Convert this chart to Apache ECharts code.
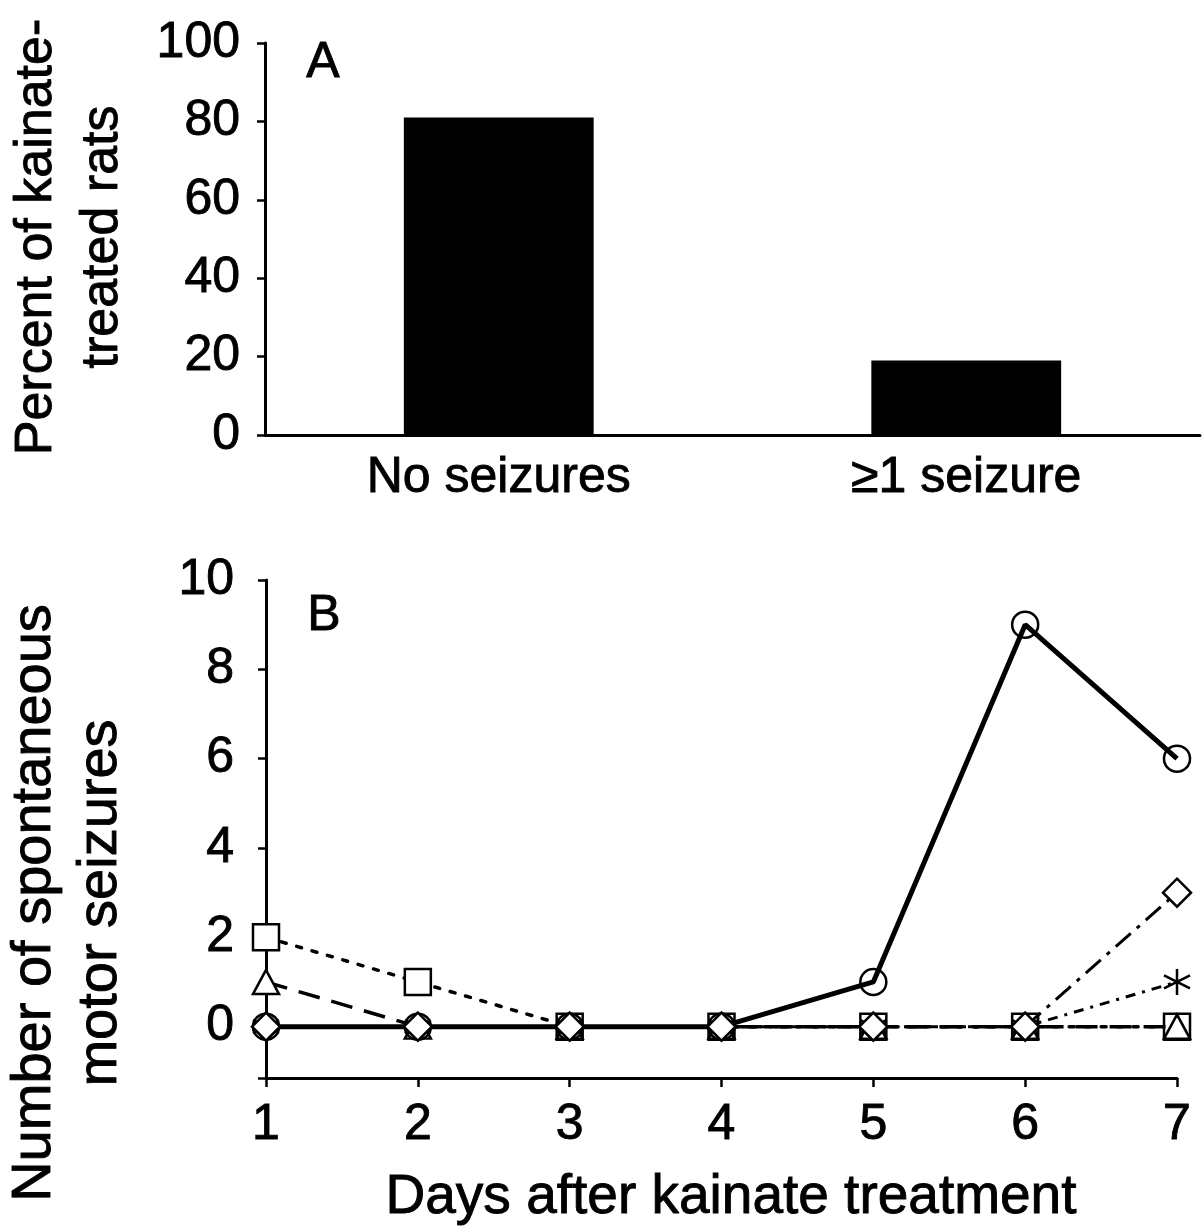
<!DOCTYPE html>
<html>
<head>
<meta charset="utf-8">
<script src="https://cdn.jsdelivr.net/npm/echarts@6/dist/echarts.min.js"></script>
<style>
html,body{margin:0;padding:0;background:#fff;}
#chart{width:1204px;height:1228px;}
</style>
</head>
<body>
<div id="chart"></div>
<script>
// ---- data ----
const categoriesA = ['No seizures', '\u22651 seizure'];
const percentA = [81, 19];
const yTicksA = [0, 20, 40, 60, 80, 100];

const days = [1, 2, 3, 4, 5, 6, 7];
const ratCircle = [0, 0, 0, 0, 1, 9, 6];
const ratSquare = [2, 1, 0, 0, 0, 0, 0];
const ratTriangle = [1, 0, 0, 0, 0, 0, 0];
const ratDiamond = [0, 0, 0, 0, 0, 0, 3];
const ratAsterisk = [0, 0, 0, 0, 0, 0, 1];
const yTicksB = [0, 2, 4, 6, 8, 10];
const yMinB = -1.15;

const titleA = 'Percent of kainate-\ntreated rats';
const titleB = 'Number of spontaneous\nmotor seizures';
const xTitleB = 'Days after kainate treatment';

// ---- styles ----
const FONT = '"Liberation Sans", Arial, Helvetica, sans-serif';
const FS = 50;
const TB = { textBorderColor: '#000', textBorderWidth: 0.9 };
const AX = { show: true, onZero: false, lineStyle: { color: '#000', width: 3 } };
const TICK = { show: true, length: 8, lineStyle: { color: '#000', width: 2.5 } };
const asteriskPath = 'path://M12,0L12,24M1.6,6L22.4,18M1.6,18L22.4,6';

function pair(ys) { return days.map((d, i) => [d, ys[i]]); }
function lbl(extra) { return Object.assign({ color: '#000', fontFamily: FONT, fontSize: FS }, TB, extra); }
function txt(x, y, text, size, rot, lh) {
  return { type: 'text', x: x, y: y, rotation: rot || 0,
    style: { text: text, font: size + 'px ' + FONT, fill: '#000', stroke: '#000', lineWidth: 0.9,
      align: 'center', verticalAlign: 'middle', lineHeight: lh || size } };
}

const chart = echarts.init(document.getElementById('chart'), null, { renderer: 'canvas' });

function lineSeries(data, symbol, size, fill, lineStyle, z) {
  return {
    type: 'line', xAxisIndex: 1, yAxisIndex: 1,
    data: pair(data), symbol: symbol, symbolSize: size,
    showAllSymbol: true, z: z, animation: false,
    lineStyle: Object.assign({ color: '#000' }, lineStyle),
    itemStyle: { color: fill, borderColor: '#000', borderWidth: 2.5 },
    emphasis: { disabled: true }
  };
}

chart.setOption({
  backgroundColor: '#fff',
  animation: false,
  grid: [
    { left: 265, top: 43, right: 4, bottom: 793, containLabel: false, outerBoundsMode: 'none' },
    { left: 266, top: 580, right: 27, bottom: 150, containLabel: false, outerBoundsMode: 'none' }
  ],
  xAxis: [
    {
      gridIndex: 0, type: 'category', data: categoriesA,
      axisLine: AX, axisTick: { show: false },
      axisLabel: lbl({ margin: 18 })
    },
    {
      gridIndex: 1, type: 'value', min: 1, max: 7, interval: 1,
      axisLine: AX,
      axisTick: Object.assign({}, TICK, { length: 9 }),
      splitLine: { show: false },
      axisLabel: lbl({ margin: 22 })
    }
  ],
  yAxis: [
    {
      gridIndex: 0, type: 'value', min: 0, max: 100, interval: 20,
      axisLine: AX,
      axisTick: TICK,
      splitLine: { show: false },
      axisLabel: lbl({ margin: 25 })
    },
    {
      gridIndex: 1, type: 'value', min: yMinB, max: 10,
      axisLine: AX,
      axisTick: Object.assign({}, TICK, { customValues: [yMinB].concat(yTicksB) }),
      splitLine: { show: false },
      axisLabel: lbl({ margin: 32, customValues: yTicksB })
    }
  ],
  graphic: [
    txt(70, 237, titleA, 52, Math.PI / 2, 66),
    txt(68, 903, titleB, 56, Math.PI / 2, 66),
    txt(731, 1198, xTitleB, 55),
    txt(323, 63, 'A', FS),
    txt(324, 616, 'B', FS)
  ],
  series: [
    {
      type: 'bar', xAxisIndex: 0, yAxisIndex: 0, data: percentA,
      barWidth: '40.6%', itemStyle: { color: '#000' }, emphasis: { disabled: true }
    },
    lineSeries(ratSquare, 'rect', 26, '#fff', { width: 3.5, type: [5, 11], cap: 'round' }, 2),
    lineSeries(ratTriangle, 'triangle', [26, 24], '#fff', { width: 3.5, type: [22, 12] }, 3),
    lineSeries(ratCircle, 'circle', 26, 'rgba(0,0,0,0)', { width: 5 }, 4),
    lineSeries(ratAsterisk, asteriskPath, 26, 'none', { width: 3, type: [10, 7, 3, 7] }, 5),
    lineSeries(ratDiamond, 'diamond', 28, '#fff', { width: 3, type: [20, 8, 4, 8] }, 6)
  ]
});
</script>
</body>
</html>
